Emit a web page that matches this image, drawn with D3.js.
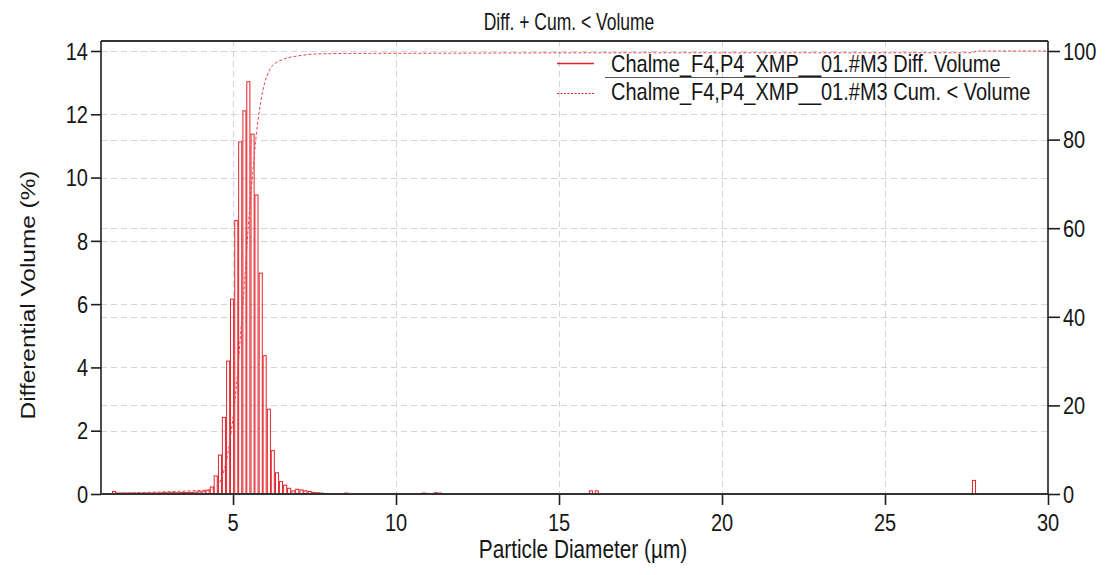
<!DOCTYPE html>
<html><head><meta charset="utf-8">
<script src="https://cdn.jsdelivr.net/npm/d3@7"></script>
<style>
body{margin:0;background:#fff}
svg{display:block}
text{font-family:"Liberation Sans",Arial,sans-serif;fill:#161616}
</style>
</head><body>
<svg id="chart" width="1105" height="575"></svg>
<script>
// ---------------- data ----------------
const chartTitle = "Diff. + Cum. < Volume";
const xLabel = "Particle Diameter (µm)";
const yLabel = "Differential Volume (%)";
const seriesNames = ["Chalme_F4,P4_XMP__01.#M3 Diff. Volume", "Chalme_F4,P4_XMP__01.#M3 Cum. < Volume"];

const binWidth = 0.125; // µm
const binCenters = [1.35,1.47,1.60,1.72,1.85,1.97,2.10,2.22,2.35,2.47,2.60,2.72,2.85,2.97,3.10,3.22,3.35,3.47,3.60,3.72,3.85,3.97,
  4.10,4.22,4.35,4.47,4.60,4.72,4.85,4.97,5.10,5.22,5.35,5.47,5.60,5.72,5.85,5.97,6.10,6.22,6.35,6.47,6.60,6.72,6.85,6.97,
  7.10,7.22,7.35,7.47,7.60,7.72,8.48,10.85,10.97,11.22,11.35,15.98,16.16,27.73];
const diffVolume = [0.08,0.03,0.03,0.03,0.03,0.03,0.03,0.03,0.03,0.03,0.03,0.03,0.04,0.04,0.04,0.04,0.04,0.05,0.05,0.05,0.06,0.07,
  0.09,0.12,0.22,0.57,1.23,2.42,4.2,6.16,8.64,11.13,12.11,13.03,11.37,9.45,6.98,4.37,2.68,1.37,0.67,0.39,0.28,0.18,0.10,0.15,
  0.13,0.10,0.08,0.05,0.04,0.03,0.03,0.03,0.02,0.04,0.03,0.10,0.10,0.43];

const cumDiameter = [1.0,1.35,2.5,3.5,4.0,4.2,4.35,4.47,4.6,4.72,4.85,4.97,5.1,5.22,5.35,5.47,5.6,5.72,5.85,5.97,6.1,6.22,6.35,6.5,6.7,7.0,7.5,8.0,8.5,11.3,16.1,27.7,27.8,30];
const cumVolume   = [0,0.1,0.4,0.65,0.8,0.9,1.1,1.6,2.8,5.2,9.5,15.5,24,35,47.5,60.5,72,81.5,88.5,92.8,95.4,96.8,97.5,98,98.5,98.9,99.3,99.4,99.45,99.5,99.6,99.6,100,100];

const xTicks = [5,10,15,20,25,30];
const yLeftTicks = [0,2,4,6,8,10,12,14];
const yRightTicks = [0,20,40,60,80,100];

// ---------------- layout ----------------
const L = 101, R = 1048, T = 41, B = 494;
const sy = 1.22; // vertical glyph stretch of the reference
const red = "#e2232a";

const svg = d3.select("#chart");
const x = d3.scaleLinear().domain([0.95, 30]).range([L, R]);
const yL = d3.scaleLinear().domain([0, 14 * (B - T) / (B - 51)]).range([B, T]);
const yR = d3.scaleLinear().domain([0, 100 * (B - T) / (B - 51)]).range([B, T]);

function label(g, px, py, str, size, anchor, k) {
  return g.append("text")
    .attr("transform", `translate(${px},${py}) scale(1,${k || sy})`)
    .attr("font-size", size)
    .attr("text-anchor", anchor)
    .text(str);
}

// gridlines
const grid = svg.append("g").attr("stroke", "#d4d4d4").attr("stroke-width", 1).attr("stroke-dasharray", "6,4");
grid.selectAll("line.gx").data(xTicks.filter(d => d < 30)).join("line")
  .attr("x1", d => Math.round(x(d)) + 0.5).attr("x2", d => Math.round(x(d)) + 0.5)
  .attr("y1", T).attr("y2", B);
grid.selectAll("line.gl").data(yLeftTicks.filter(d => d > 0)).join("line")
  .attr("x1", L).attr("x2", R)
  .attr("y1", d => Math.round(yL(d)) + 0.5).attr("y2", d => Math.round(yL(d)) + 0.5);
grid.selectAll("line.gr").data(yRightTicks.filter(d => d > 0 && d < 100)).join("line")
  .attr("x1", L).attr("x2", R)
  .attr("y1", d => Math.round(yR(d)) + 0.5).attr("y2", d => Math.round(yR(d)) + 0.5);

// bars
const bars = binCenters.map((c, i) => ({c, v: diffVolume[i]}));
svg.append("g").selectAll("rect").data(bars).join("rect")
  .attr("x", d => x(d.c - binWidth / 2) + 0.5)
  .attr("width", d => Math.max(1, x(d.c + binWidth / 2) - x(d.c - binWidth / 2) - 1))
  .attr("y", d => yL(d.v))
  .attr("height", d => Math.max(0.5, B - yL(d.v)))
  .attr("fill", "none")
  .attr("stroke", red)
  .attr("stroke-width", 1);

// cumulative line
const cumPts = cumDiameter.map((d, i) => [d, cumVolume[i]]);
svg.append("path")
  .attr("d", d3.line().x(d => x(d[0])).y(d => yR(d[1])).curve(d3.curveMonotoneX)(cumPts))
  .attr("fill", "none").attr("stroke", "#e8474c").attr("stroke-width", 1)
  .attr("stroke-dasharray", "3,2");

// axes (tick marks)
const axL = svg.append("g").attr("transform", `translate(${L},0)`)
  .call(d3.axisLeft(yL).tickValues(yLeftTicks).tickSize(10).tickFormat(() => ""));
const axR = svg.append("g").attr("transform", `translate(${R},0)`)
  .call(d3.axisRight(yR).tickValues(yRightTicks).tickSize(12).tickFormat(() => ""));
const axB = svg.append("g").attr("transform", `translate(0,${B})`)
  .call(d3.axisBottom(x).tickValues(xTicks).tickSize(11).tickFormat(() => ""));
[axL, axR, axB].forEach(a => {
  a.select(".domain").remove();
  a.selectAll(".tick line").attr("stroke", "#1e1e1e").attr("stroke-width", 1.6);
});

// frame
const frame = svg.append("g").attr("stroke", "#1e1e1e");
frame.append("line").attr("x1", L).attr("x2", L).attr("y1", T).attr("y2", B + 1).attr("stroke-width", 1.6);
frame.append("line").attr("x1", R).attr("x2", R).attr("y1", T).attr("y2", B + 1).attr("stroke-width", 1.6);
frame.append("line").attr("x1", L).attr("x2", R).attr("y1", T).attr("y2", T).attr("stroke-width", 2).attr("stroke", "#333");
frame.append("line").attr("x1", L).attr("x2", R).attr("y1", B).attr("y2", B).attr("stroke-width", 2.2).attr("stroke", "#333");

// tick labels
const labels = svg.append("g");
yLeftTicks.forEach(v => label(labels, 88, yL(v) + 8.7, String(v), 20, "end"));
yRightTicks.forEach(v => label(labels, 1063, yR(v) + 8.7, String(v), 20, "start"));
xTicks.forEach(v => label(labels, x(v), 531, String(v), 20, "middle"));

// titles
label(svg, 569, 30, chartTitle, 17.5, "middle", 1.4);
label(svg, 583, 558, xLabel, 20.8, "middle");
svg.append("text")
  .attr("transform", `translate(35,295) scale(1,${sy}) rotate(-90)`)
  .attr("font-size", 20).attr("text-anchor", "middle").text(yLabel);

// legend
const lg = svg.append("g");
lg.append("line").attr("x1", 557).attr("x2", 594).attr("y1", 63.5).attr("y2", 63.5)
  .attr("stroke", red).attr("stroke-width", 1.3);
lg.append("line").attr("x1", 557).attr("x2", 594).attr("y1", 93.5).attr("y2", 93.5)
  .attr("stroke", red).attr("stroke-width", 1).attr("stroke-dasharray", "2,1.5");
label(lg, 611, 72, seriesNames[0], 20, "start");
label(lg, 611, 100, seriesNames[1], 20, "start");
lg.append("line").attr("x1", 605).attr("x2", 1010).attr("y1", 77.5).attr("y2", 77.5)
  .attr("stroke", "#555").attr("stroke-width", 1);
</script>
</body></html>
